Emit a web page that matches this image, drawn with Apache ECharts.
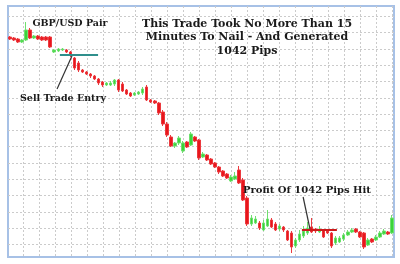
<!DOCTYPE html>
<html><head><meta charset="utf-8">
<script src="https://cdn.jsdelivr.net/npm/echarts@6/dist/echarts.min.js"></script>
<style>html,body{margin:0;padding:0;background:#fff}#c{width:400px;height:264px}</style>
</head><body><div id="c"></div>
<script>
// GBP/USD candles: [open, close, low, high] as separate arrays
const openP = [1.5714,1.5708,1.5702,1.5684,1.5696,1.5756,1.5708,1.5720,1.5714,1.5714,
1.5714,1.5624,1.5630,1.5636,1.5636,1.5624,1.5588,1.5558,1.5516,1.5504,
1.5492,1.5480,1.5462,1.5444,1.5426,1.5426,1.5432,1.5456,1.5432,1.5396,
1.5378,1.5366,1.5372,1.5378,1.5414,1.5336,1.5330,1.5318,1.5264,1.5192,
1.5114,1.5060,1.5078,1.5030,1.5084,1.5066,1.5114,1.5096,1.4994,1.5006,
1.4982,1.4958,1.4934,1.4910,1.4892,1.4850,1.4862,1.4916,1.4856,1.4748,
1.4592,1.4598,1.4598,1.4556,1.4580,1.4616,1.4592,1.4562,1.4574,1.4550,
1.4538,1.4460,1.4496,1.4520,1.4538,1.4574,1.4562,1.4544,1.4556,1.4550,
1.4538,1.4478,1.4484,1.4502,1.4526,1.4544,1.4562,1.4544,1.4538,1.4466,
1.4502,1.4496,1.4514,1.4532,1.4544,1.4538];
const closeP = [1.5702,1.5696,1.5684,1.5696,1.5756,1.5708,1.5720,1.5702,1.5696,1.5696,
1.5654,1.5636,1.5642,1.5642,1.5624,1.5606,1.5528,1.5516,1.5504,1.5492,
1.5480,1.5462,1.5438,1.5426,1.5438,1.5438,1.5456,1.5396,1.5390,1.5372,
1.5360,1.5378,1.5384,1.5402,1.5336,1.5324,1.5318,1.5258,1.5192,1.5126,
1.5060,1.5078,1.5108,1.5078,1.5054,1.5132,1.5090,1.4988,1.5012,1.4976,
1.4952,1.4934,1.4904,1.4880,1.4868,1.4874,1.4880,1.4838,1.4736,1.4592,
1.4628,1.4622,1.4568,1.4598,1.4622,1.4574,1.4556,1.4580,1.4556,1.4496,
1.4454,1.4496,1.4532,1.4550,1.4568,1.4544,1.4550,1.4562,1.4514,1.4538,
1.4460,1.4508,1.4508,1.4526,1.4544,1.4556,1.4544,1.4514,1.4454,1.4496,
1.4484,1.4514,1.4538,1.4550,1.4532,1.4628];
const lowP = [1.5696,1.5690,1.5678,1.5678,1.5690,1.5702,1.5702,1.5696,1.5690,1.5690,
1.5648,1.5618,1.5624,1.5630,1.5618,1.5594,1.5516,1.5504,1.5498,1.5486,
1.5468,1.5456,1.5426,1.5414,1.5420,1.5420,1.5420,1.5384,1.5384,1.5366,
1.5354,1.5360,1.5366,1.5366,1.5330,1.5318,1.5312,1.5246,1.5180,1.5114,
1.5054,1.5048,1.5066,1.5018,1.5048,1.5060,1.5084,1.4976,1.4988,1.4970,
1.4946,1.4928,1.4892,1.4874,1.4862,1.4844,1.4856,1.4832,1.4730,1.4580,
1.4580,1.4592,1.4556,1.4550,1.4574,1.4568,1.4550,1.4550,1.4544,1.4490,
1.4418,1.4448,1.4484,1.4508,1.4526,1.4538,1.4538,1.4538,1.4508,1.4532,
1.4448,1.4466,1.4478,1.4490,1.4520,1.4538,1.4538,1.4508,1.4442,1.4460,
1.4478,1.4490,1.4508,1.4526,1.4526,1.4532];
const highP = [1.5720,1.5714,1.5708,1.5702,1.5804,1.5768,1.5726,1.5726,1.5720,1.5720,
1.5720,1.5642,1.5648,1.5648,1.5642,1.5630,1.5594,1.5570,1.5522,1.5510,
1.5498,1.5486,1.5468,1.5450,1.5444,1.5450,1.5462,1.5462,1.5444,1.5402,
1.5384,1.5384,1.5390,1.5414,1.5426,1.5342,1.5336,1.5324,1.5276,1.5204,
1.5126,1.5084,1.5120,1.5090,1.5090,1.5144,1.5120,1.5102,1.5024,1.5012,
1.4988,1.4964,1.4940,1.4916,1.4898,1.4886,1.4904,1.4940,1.4868,1.4760,
1.4646,1.4640,1.4610,1.4616,1.4676,1.4628,1.4604,1.4592,1.4580,1.4556,
1.4550,1.4508,1.4556,1.4580,1.4604,1.4628,1.4568,1.4580,1.4562,1.4556,
1.4544,1.4520,1.4520,1.4538,1.4556,1.4568,1.4568,1.4550,1.4544,1.4508,
1.4508,1.4526,1.4550,1.4562,1.4550,1.4646];
const categories = openP.map((_, i) => String(i + 1));

// annotation lines in data space: [candle index, price]
const entryLine = [[12.4, 1.5606], [21.9, 1.5606]];
const entryArrow = [[11.7, 1.5402], [15.4, 1.5600]];
const profitLine = [[72.6, 1.4556], [81.3, 1.4556]];
const profitArrow = [[72.9, 1.4754], [74.6, 1.4562]];

const titleText = 'This Trade Took No More Than 15\nMinutes To Nail - And Generated\n1042 Pips';
const pairLabel = 'GBP/USD Pair';
const entryLabel = 'Sell Trade Entry';
const profitLabel = 'Profit Of 1042 Pips Hit';

const chart = echarts.init(document.getElementById('c'), null, {renderer: 'canvas'});
const yMin = 1.4394, yMax = 1.5900;
const gridLine = {show: true, showMinLine: false, showMaxLine: false, lineStyle: {color: '#cbcbcb', type: [2, 2], width: 1}};
const hiddenParts = {axisLine: {show: false}, axisTick: {show: false}, axisLabel: {show: false}};
chart.setOption({
  animation: false,
  backgroundColor: '#ffffff',
  grid: [
    {left: 8, top: 6, width: 386, height: 251, show: true, borderColor: '#a7c1e6', borderWidth: 2, backgroundColor: 'transparent'},
    {left: 7, top: 6, width: 387, height: 251, show: false},
    {left: 8, top: -3.2, width: 386, height: 260.2, show: false}
  ],
  xAxis: [
    {type: 'category', data: categories, gridIndex: 0, boundaryGap: true, show: false},
    Object.assign({type: 'value', gridIndex: 1, min: 0, max: 387 / 16.04, interval: 1, splitLine: gridLine}, hiddenParts),
    {type: 'value', gridIndex: 0, min: -0.5, max: 95.5, show: false},
    {type: 'value', gridIndex: 2, min: 0, max: 1, show: false, splitLine: {show: false}}
  ],
  yAxis: [
    {type: 'value', gridIndex: 0, min: yMin, max: yMax, show: false, splitLine: {show: false}},
    {type: 'value', gridIndex: 1, min: 0, max: 1, show: false, splitLine: {show: false}},
    Object.assign({type: 'value', gridIndex: 2, inverse: true, min: 0, max: 260.2 / 16.5, interval: 1, splitLine: gridLine}, hiddenParts)
  ],
  series: [
    {type: 'candlestick', xAxisIndex: 0, yAxisIndex: 0, barWidth: 3,
      data: openP.map((o, i) => [o, closeP[i], lowP[i], highP[i]]),
      itemStyle: {color: '#3ad43a', color0: '#e8161c', borderColor: '#6fe06f', borderColor0: '#ec3a3f', borderWidth: 1}},
    {type: 'line', xAxisIndex: 2, yAxisIndex: 0, data: entryLine, symbol: 'none', lineStyle: {color: '#2f8f8c', width: 2}, z: 5},
    {type: 'line', xAxisIndex: 2, yAxisIndex: 0, data: profitLine, symbol: 'none', lineStyle: {color: '#cc1a1a', width: 2}, z: 5},
    {type: 'line', xAxisIndex: 2, yAxisIndex: 0, data: entryArrow, symbol: 'none', lineStyle: {color: '#333', width: 1.2}, z: 6},
    {type: 'line', xAxisIndex: 2, yAxisIndex: 0, data: profitArrow, symbol: 'none', lineStyle: {color: '#333', width: 1.2}, z: 6}
  ],
  graphic: [
    {type: 'text', z: 10, style: {text: titleText, x: 247, y: 17.5, align: 'center', verticalAlign: 'top', font: 'bold 11px "DejaVu Serif"', fill: '#1a1a1a', lineHeight: 13.3}},
    {type: 'text', z: 10, style: {text: pairLabel, x: 70, y: 23.5, align: 'center', verticalAlign: 'middle', font: 'bold 9.5px "DejaVu Serif"', fill: '#1a1a1a'}},
    {type: 'text', z: 10, style: {text: entryLabel, x: 63, y: 99, align: 'center', verticalAlign: 'middle', font: 'bold 9.5px "DejaVu Serif"', fill: '#1a1a1a'}},
    {type: 'text', z: 10, style: {text: profitLabel, x: 307, y: 190, align: 'center', verticalAlign: 'middle', font: 'bold 10px "DejaVu Serif"', fill: '#1a1a1a'}}
  ]
});
</script></body></html>
